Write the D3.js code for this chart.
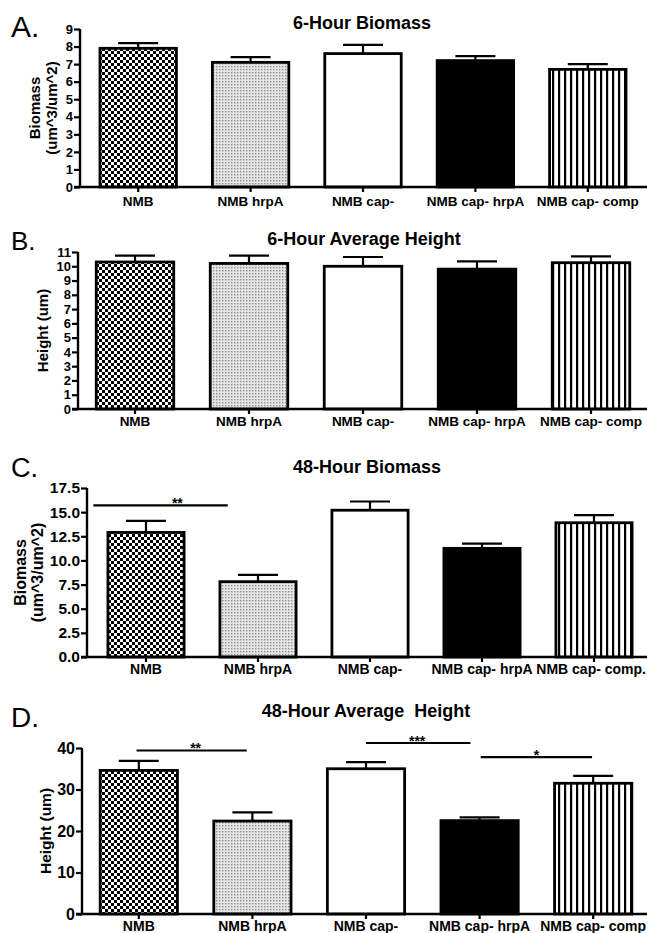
<!DOCTYPE html>
<html>
<head>
<meta charset="utf-8">
<script src="https://cdn.jsdelivr.net/npm/d3@7"></script>
<style>
  body { margin: 0; background: #fff; }
  svg { display: block; font-family: "Liberation Sans", Arial, Helvetica, sans-serif; }
</style>
</head>
<body>
<svg id="fig" width="647" height="933"></svg>
<script>
//Strain groups on the x axis
var groups = ["NMB", "NMB hrpA", "NMB cap-", "NMB cap- hrpA", "NMB cap- comp"];
var groupsC = ["NMB", "NMB hrpA", "NMB cap-", "NMB cap- hrpA", "NMB cap- comp."];

//Fill used for each group
var fills = ["check", "dots", "white", "black", "stripes"];

//A. 6-hour biomass (um^3/um^2)
var biomass6Mean = [7.9, 7.1, 7.6, 7.2, 6.7];
var biomass6Err = [0.3, 0.3, 0.5, 0.25, 0.3];

//B. 6-hour average height (um)
var height6Mean = [10.3, 10.2, 10.0, 9.8, 10.25];
var height6Err = [0.45, 0.55, 0.65, 0.55, 0.45];

//C. 48-hour biomass (um^3/um^2)
var biomass48Mean = [12.9, 7.8, 15.2, 11.25, 13.9];
var biomass48Err = [1.2, 0.7, 0.9, 0.5, 0.8];

//D. 48-hour average height (um)
var height48Mean = [34.6, 22.4, 35.0, 22.5, 31.5];
var height48Err = [2.3, 2.1, 1.6, 0.8, 1.8];

//Tick values
var ticksA = d3.range(0, 10, 1);
var ticksB = d3.range(0, 12, 1);
var ticksC = d3.range(0, 17.6, 2.5);
var ticksD = [0, 10, 20, 30, 40];

//Significance bars: from/to/textAt in group-index units, level in data units
var sigC = [{ from: -0.47, to: 0.73, textAt: 0.28, level: 15.7, text: "**" }];
var sigD = [
  { from: -0.02, to: 0.95, textAt: 0.5, level: 39.4, text: "**" },
  { from: 2.0, to: 2.92, textAt: 2.45, level: 41.2, text: "***" },
  { from: 3.01, to: 3.99, textAt: 3.5, level: 37.8, text: "*" }
];

var svg = d3.select("#fig");

//Fill patterns
var defs = svg.append("defs");

var check = defs.append("pattern")
  .attr("id", "check")
  .attr("patternUnits", "userSpaceOnUse")
  .attr("width", 6).attr("height", 6);
check.append("rect").attr("width", 6).attr("height", 6).attr("fill", "#fff");
check.append("rect").attr("width", 3).attr("height", 3).attr("fill", "#000");
check.append("rect").attr("x", 3).attr("y", 3).attr("width", 3).attr("height", 3).attr("fill", "#000");

var dots = defs.append("pattern")
  .attr("id", "dots")
  .attr("patternUnits", "userSpaceOnUse")
  .attr("width", 3).attr("height", 3);
dots.append("rect").attr("width", 3).attr("height", 3).attr("fill", "#e6e6e6");
dots.append("rect").attr("width", 1.4).attr("height", 1.4).attr("fill", "#8c8c8c");

var stripes = defs.append("pattern")
  .attr("id", "stripes")
  .attr("patternUnits", "userSpaceOnUse")
  .attr("width", 6).attr("height", 6);
stripes.append("rect").attr("width", 6).attr("height", 6).attr("fill", "#fff");
stripes.append("rect").attr("width", 2.2).attr("height", 6).attr("fill", "#000");

function fillFor(f) {
  if (f === "white") return "#fff";
  if (f === "black") return "#000";
  return "url(#" + f + ")";
}

var panels = [
  {
    letter: "A.", title: "6-Hour Biomass", labels: groups,
    mean: biomass6Mean, err: biomass6Err, yMax: 9, ticks: ticksA, fmt: d3.format("d"),
    ylab: ["Biomass", "(um^3/um^2)"], sig: [],
    axisX: 80, yTop: 29, yBot: 187, xr: [82, 644],
    tickSize: 13, labSize: 13.5, labY: 206, titleX: 362, titleY: 29,
    letterX: 11, letterY: 37, letterSize: 30, ylabX: [40, 57], ylabSize: 15
  },
  {
    letter: "B.", title: "6-Hour Average Height", labels: groups,
    mean: height6Mean, err: height6Err, yMax: 11, ticks: ticksB, fmt: d3.format("d"),
    ylab: ["Height (um)"], sig: [],
    axisX: 78, yTop: 252, yBot: 409, xr: [78, 648],
    tickSize: 13, labSize: 13.5, labY: 426, titleX: 364, titleY: 245,
    letterX: 11, letterY: 250, letterSize: 26, ylabX: [48], ylabSize: 15
  },
  {
    letter: "C.", title: "48-Hour Biomass", labels: groupsC,
    mean: biomass48Mean, err: biomass48Err, yMax: 17.5, ticks: ticksC, fmt: d3.format(".1f"),
    ylab: ["Biomass", "(um^3/um^2)"], sig: sigC,
    axisX: 87, yTop: 488, yBot: 657, xr: [90, 650],
    tickSize: 15.5, labSize: 14, labY: 674, titleX: 367, titleY: 473,
    letterX: 11, letterY: 477, letterSize: 27, ylabX: [26, 43], ylabSize: 16
  },
  {
    letter: "D.", title: "48-Hour Average  Height", labels: groups,
    mean: height48Mean, err: height48Err, yMax: 40, ticks: ticksD, fmt: d3.format("d"),
    ylab: ["Height (um)"], sig: sigD,
    axisX: 82, yTop: 748, yBot: 914, xr: [82, 650],
    tickSize: 16, labSize: 14, labY: 931, titleX: 366, titleY: 717,
    letterX: 11, letterY: 727, letterSize: 28, ylabX: [51], ylabSize: 15.5
  }
];

panels.forEach(drawPanel);

function drawPanel(p) {
  var g = svg.append("g");

  var x = d3.scaleBand()
    .domain(p.labels)
    .range(p.xr)
    .paddingInner(0.32)
    .paddingOuter(0.16);

  var y = d3.scaleLinear()
    .domain([0, p.yMax])
    .range([p.yBot, p.yTop]);

  //Group index -> x position (for significance bars)
  var idx = d3.scaleLinear()
    .domain([0, p.labels.length - 1])
    .range([x(p.labels[0]) + x.bandwidth() / 2, x(p.labels[p.labels.length - 1]) + x.bandwidth() / 2]);

  var rows = p.labels.map(function(d, i) {
    return { name: d, mean: p.mean[i], err: p.err[i], fill: fills[i] };
  });

  //Bars
  g.selectAll(".bar")
    .data(rows)
    .enter()
    .append("rect")
    .attr("class", "bar")
    .attr("x", function(d) { return x(d.name); })
    .attr("width", x.bandwidth())
    .attr("y", function(d) { return y(d.mean); })
    .attr("height", function(d) { return y(0) - y(d.mean); })
    .attr("fill", function(d) { return fillFor(d.fill); })
    .attr("stroke", "#000")
    .attr("stroke-width", 2.8);

  //Error bars (upper only)
  var eb = g.selectAll(".err")
    .data(rows)
    .enter()
    .append("g")
    .attr("class", "err")
    .attr("stroke", "#000")
    .attr("stroke-width", 2.2);

  eb.append("line")
    .attr("x1", function(d) { return x(d.name) + x.bandwidth() / 2; })
    .attr("x2", function(d) { return x(d.name) + x.bandwidth() / 2; })
    .attr("y1", function(d) { return y(d.mean); })
    .attr("y2", function(d) { return y(d.mean + d.err); });

  eb.append("line")
    .attr("x1", function(d) { return x(d.name) + x.bandwidth() / 2 - 20; })
    .attr("x2", function(d) { return x(d.name) + x.bandwidth() / 2 + 20; })
    .attr("y1", function(d) { return y(d.mean + d.err); })
    .attr("y2", function(d) { return y(d.mean + d.err); });

  //Y axis
  var yAxis = d3.axisLeft(y)
    .tickValues(p.ticks)
    .tickFormat(p.fmt)
    .tickSize(6)
    .tickPadding(1);

  var ya = g.append("g")
    .attr("transform", "translate(" + p.axisX + ",0)")
    .call(yAxis);
  ya.select(".domain").attr("stroke-width", 2.4).attr("d", "M0," + y(p.yMax) + "V" + y(0));
  ya.selectAll(".tick line").attr("stroke-width", 2.2);
  ya.selectAll(".tick text")
    .attr("font-size", p.tickSize)
    .attr("font-weight", "bold")
    .attr("font-family", null)
    .attr("fill", "#000");

  //X axis baseline with small ticks at group centres
  var xAxis = d3.axisBottom(x).tickSize(5).tickSizeOuter(0).tickPadding(3);
  var xa = g.append("g")
    .attr("transform", "translate(0," + p.yBot + ")")
    .call(xAxis);
  xa.select(".domain").attr("stroke-width", 2.6).attr("d", "M" + (p.axisX - 6) + ",0H647");
  xa.selectAll(".tick line").attr("stroke-width", 2.2);
  xa.selectAll(".tick text")
    .attr("y", p.labY - p.yBot)
    .attr("dy", null)
    .attr("font-size", p.labSize)
    .attr("font-weight", "bold")
    .attr("font-family", null)
    .attr("fill", "#000")
    .each(function() {
      //Keep the last label inside the page
      var b = this.getBBox();
      var parentX = +this.parentNode.getAttribute("transform").match(/translate\(([-\d.]+)/)[1];
      var over = parentX + b.x + b.width - 646;
      if (over > 0) d3.select(this).attr("x", -over);
    });

  //Significance bars
  var sg = g.selectAll(".sig")
    .data(p.sig)
    .enter()
    .append("g")
    .attr("class", "sig");

  sg.append("line")
    .attr("x1", function(d) { return idx(d.from); })
    .attr("x2", function(d) { return idx(d.to); })
    .attr("y1", function(d) { return y(d.level); })
    .attr("y2", function(d) { return y(d.level); })
    .attr("stroke", "#000")
    .attr("stroke-width", 2.2);

  sg.append("text")
    .attr("x", function(d) { return idx(d.textAt); })
    .attr("y", function(d) { return y(d.level) + 3; })
    .attr("text-anchor", "middle")
    .attr("font-size", 14)
    .attr("font-weight", "bold")
    .text(function(d) { return d.text; });

  //Titles, panel letter, y label
  g.append("text")
    .attr("x", p.titleX)
    .attr("y", p.titleY)
    .attr("text-anchor", "middle")
    .attr("font-size", 18)
    .attr("font-weight", "bold")
    .style("white-space", "pre")
    .text(p.title);

  g.append("text")
    .attr("x", p.letterX)
    .attr("y", p.letterY)
    .attr("font-size", p.letterSize)
    .text(p.letter);

  var mid = (p.yTop + p.yBot) / 2;
  p.ylab.forEach(function(t, i) {
    g.append("text")
      .attr("transform", "translate(" + p.ylabX[i] + "," + mid + ") rotate(-90)")
      .attr("text-anchor", "middle")
      .attr("font-size", p.ylabSize)
      .attr("font-weight", "bold")
      .text(t);
  });
}
</script>
</body>
</html>
